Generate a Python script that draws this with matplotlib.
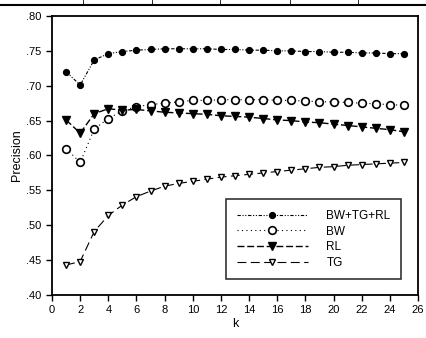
import matplotlib
matplotlib.use("Agg")
import matplotlib.pyplot as plt
from matplotlib.lines import Line2D
from matplotlib.ticker import FuncFormatter

k = list(range(1, 26))
bw_tg_rl = [0.720, 0.701, 0.737, 0.746, 0.749, 0.751, 0.752, 0.753, 0.753, 0.753,
            0.753, 0.752, 0.752, 0.751, 0.751, 0.750, 0.750, 0.749, 0.749, 0.748,
            0.748, 0.747, 0.747, 0.746, 0.746]
bw = [0.610, 0.590, 0.638, 0.653, 0.664, 0.670, 0.673, 0.675, 0.677, 0.679,
      0.679, 0.680, 0.680, 0.680, 0.680, 0.679, 0.679, 0.678, 0.677, 0.677,
      0.676, 0.675, 0.674, 0.673, 0.672]
rl = [0.651, 0.632, 0.660, 0.667, 0.665, 0.666, 0.664, 0.662, 0.661, 0.660,
      0.659, 0.657, 0.656, 0.655, 0.653, 0.651, 0.650, 0.648, 0.647, 0.645,
      0.643, 0.641, 0.639, 0.637, 0.634]
tg = [0.443, 0.448, 0.491, 0.514, 0.529, 0.541, 0.549, 0.556, 0.560, 0.563,
      0.566, 0.569, 0.571, 0.573, 0.575, 0.577, 0.579, 0.581, 0.583, 0.584,
      0.586, 0.587, 0.588, 0.589, 0.590]
labels = ["BW+TG+RL", "BW", "RL", "TG"]

plt.rcParams['font.family'] = ['Liberation Sans', 'DejaVu Sans']

fig = plt.figure(figsize=(4.27, 3.38), dpi=100)
ax = fig.add_axes([0.1218, 0.1272, 0.8572, 0.8255])

ax.plot(k, bw_tg_rl, color='black', lw=0.8, linestyle=(0, (3, 1.5, 1, 1.5, 1, 1.5)),
        marker='o', ms=4.2, mfc='black', mec='black', label=labels[0])
ax.plot(k, bw, color='black', lw=0.8, linestyle=(0, (1, 3)),
        marker='o', ms=5.5, mfc='white', mec='black', mew=1.2, label=labels[1])
ax.plot(k, rl, color='black', lw=1.0, linestyle=(0, (5, 2)),
        marker='v', ms=5.5, mfc='black', mec='black', label=labels[2])
ax.plot(k, tg, color='black', lw=0.8, linestyle=(0, (8, 4)),
        marker='v', ms=4.8, mfc='white', mec='black', mew=1.0, label=labels[3])

ax.set_xlim(0, 26)
ax.set_ylim(0.40, 0.80)
ax.set_xticks(range(0, 27, 2))
ax.set_yticks([0.40, 0.45, 0.50, 0.55, 0.60, 0.65, 0.70, 0.75, 0.80])
ax.yaxis.set_major_formatter(FuncFormatter(lambda v, p: ("%.2f" % v)[1:]))
ax.tick_params(direction='out', length=4, width=1, labelsize=8)
for s in ax.spines.values():
    s.set_linewidth(1.3)
ax.set_xlabel("k", fontsize=9, labelpad=2)
ax.set_ylabel("Precision", fontsize=9, labelpad=2)

leg = ax.legend(loc='lower right', bbox_to_anchor=(0.97, 0.035), fontsize=8.5,
                frameon=True, fancybox=False, edgecolor='black', handlelength=6,
                handletextpad=1.6, borderpad=0.9, labelspacing=0.3)
leg.get_frame().set_linewidth(1.2)

# scan remnants at top of image
fig.add_artist(Line2D([0, 1], [0.985, 0.985], transform=fig.transFigure, color='black', lw=1.5))
for xp in [83, 152, 220, 290, 358]:
    fig.add_artist(Line2D([xp / 427, xp / 427], [0.985, 1.0], transform=fig.transFigure,
                          color='black', lw=0.6))

fig.savefig("out.png", dpi=100)
